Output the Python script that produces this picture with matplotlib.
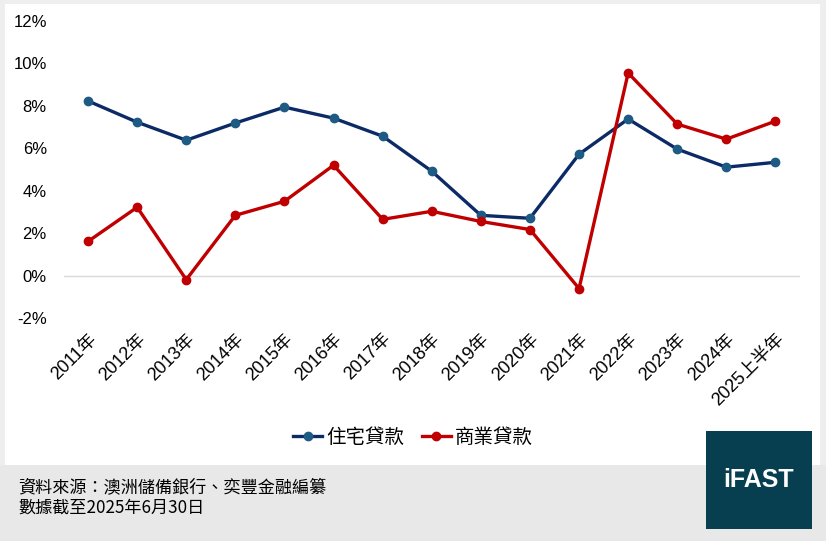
import matplotlib.pyplot as plt
from matplotlib.patches import Rectangle

W, H = 826, 541
DPI = 100

years = ["2011年", "2012年", "2013年", "2014年", "2015年", "2016年", "2017年", "2018年",
         "2019年", "2020年", "2021年", "2022年", "2023年", "2024年", "2025上半年"]
residential = [8.23, 7.23, 6.38, 7.19, 7.94, 7.42, 6.57, 4.92, 2.84, 2.70, 5.72, 7.38, 5.96, 5.11, 5.34]
commercial = [1.61, 3.22, -0.19, 2.84, 3.50, 5.20, 2.65, 3.03, 2.55, 2.17, -0.61, 9.55, 7.14, 6.43, 7.28]
y_ticks = [-2, 0, 2, 4, 6, 8, 10, 12]

LATIN_CJK = ["Liberation Sans", "Noto Sans CJK TC"]
CJK = ["Noto Sans CJK TC", "Liberation Sans"]

BLUE_LINE = "#0c2a66"
BLUE_MARK = "#1d5a84"
RED = "#c00000"


def px(x0, y0, w, h):
    """pixel box (top-left origin) -> figure fraction rect"""
    return [x0 / W, 1 - (y0 + h) / H, w / W, h / H]


fig = plt.figure(figsize=(W / DPI, H / DPI), dpi=DPI)
fig.patch.set_facecolor("#eeeeee")

# white chart panel and grey footer (behind everything)
fig.patches.append(Rectangle((5 / W, 1 - 465 / H), 815 / W, 461 / H,
                             transform=fig.transFigure, facecolor="white", edgecolor="none", zorder=-10))
fig.patches.append(Rectangle((0, 0), 1, 1 - 465 / H,
                             transform=fig.transFigure, facecolor="#e8e8e8", edgecolor="none", zorder=-10))

ax = fig.add_axes(px(63.5, 21, 736.5, 297))
ax.set_facecolor("none")
ax.set_zorder(1)

x = list(range(len(years)))
ax.plot(x, residential, color=BLUE_LINE, lw=2.4, marker="o", markersize=6,
        markerfacecolor=BLUE_MARK, markeredgecolor=BLUE_MARK, label="住宅貸款", clip_on=False, zorder=3)
ax.plot(x, commercial, color=RED, lw=2.4, marker="o", markersize=6,
        markerfacecolor=RED, markeredgecolor=RED, label="商業貸款", clip_on=False, zorder=3)

ax.axhline(0, color="#d9d9d9", lw=1, zorder=1)
ax.set_xlim(-0.5, len(years) - 0.5)
ax.set_ylim(-2, 12)
ax.set_yticks(y_ticks)
ax.set_yticklabels([f"{v}%" for v in y_ticks], fontsize=12, family=LATIN_CJK)
ax.set_xticks(x)
ax.set_xticklabels(years, rotation=45, ha="right", va="top", rotation_mode="anchor",
                   fontsize=13, family=LATIN_CJK)
ax.tick_params(axis="both", length=0)
ax.tick_params(axis="y", pad=12)
ax.tick_params(axis="x", pad=9)
for s in ax.spines.values():
    s.set_visible(False)

leg = fig.legend(loc="center", bbox_to_anchor=(413 / W, 1 - 437 / H), ncol=2, frameon=False,
                 prop={"family": CJK, "size": 14}, handlelength=1.5, columnspacing=0.9,
                 handletextpad=0.2)

fig.text(18 / W, 1 - 487 / H, "資料來源：澳洲儲備銀行、奕豐金融編纂", family=CJK, fontsize=12.3,
         va="center", ha="left")
fig.text(18 / W, 1 - 508 / H, "數據截至2025年6月30日", family=CJK, fontsize=12.3,
         va="center", ha="left")

fig.patches.append(Rectangle((706 / W, 1 - 529 / H), 106 / W, 98 / H,
                             transform=fig.transFigure, facecolor="#073e50", edgecolor="none", zorder=2))
fig.text(759 / W, 1 - 480 / H, "iFAST", color="white", fontsize=18, fontweight="bold",
         family="Liberation Sans", ha="center", va="center", zorder=3)

fig.savefig("out.png", dpi=DPI, facecolor=fig.get_facecolor())
